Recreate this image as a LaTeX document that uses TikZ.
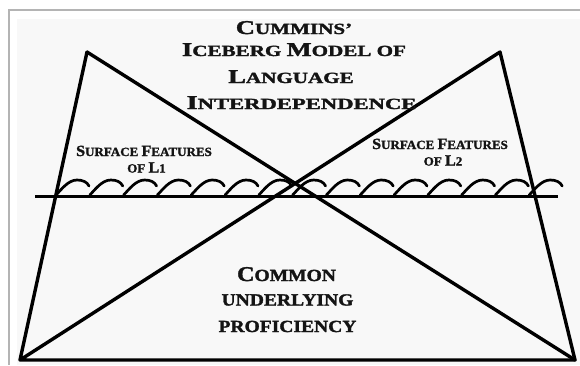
\documentclass[tikz,border=0pt]{standalone}
\usepackage{fontspec}
\setmainfont{Liberation Serif}[FakeBold=1.6]
\usepackage{graphicx}
\newcommand\capsc[4]{{\fontsize{#1}{#1}\selectfont #3}{\fontsize{#2}{#2}\selectfont #4}}
\definecolor{framegray}{HTML}{B4B4B4}
\definecolor{innerbg}{HTML}{F8F8F8}
\begin{document}
\begin{tikzpicture}[x=1pt,y=-1pt,
  edge/.style={line width=3.4pt, line cap=round, line join=round, black},
  waterline/.style={line width=3pt, black},
  wavecurve/.style={line width=2.7pt, line cap=round, black},
  frameline/.style={line width=1.6pt, framegray},
  lbl/.style={anchor=base, inner sep=0pt, font=\bfseries, text=black!92}]
\useasboundingbox (0,0) rectangle (580,365);
\fill[white] (0,0) rectangle (580,365);
\fill[innerbg] (17,19) rectangle (580,365);
\draw[frameline] (580,10) -- (9,10) -- (9,365);

% vertices
\coordinate (TL) at (87,52);
\coordinate (TR) at (500,52);
\coordinate (BL) at (20,360);
\coordinate (BR) at (575,360);

% waves
\foreach \k in {0,...,14} {
  \pgfmathsetmacro\cx{77+33.8*\k}
  \draw[wavecurve] (\cx-21,195) .. controls (\cx-16,190) and (\cx-9,180) .. (\cx,180)
     .. controls (\cx+6,180) and (\cx+10,182) .. (\cx+12,186);
}
\coordinate (WL) at (35,196);
\coordinate (WR) at (558,196);
\draw[waterline] (WL) -- (WR);

% triangles
\draw[edge] (TL) -- (BL) -- (BR) -- (TR) -- (BL);
\draw[edge] (TL) -- (BR);

% title
\node[lbl] (t1) at (294,34) {\scalebox{1.36}[1]{\capsc{19.5}{15.5}{C}{UMMINS’}}};
\node[lbl] (t2) at (294,56) {\scalebox{1.36}[1]{\capsc{19.5}{15.5}{I}{CEBERG }\capsc{19.5}{15.5}{M}{ODEL OF}}};
\node[lbl] (t3) at (291,83) {\scalebox{1.36}[1]{\capsc{19.5}{15.5}{L}{ANGUAGE}}};
\node[lbl] (t4) at (301.5,109) {\scalebox{1.46}[1]{\capsc{19.5}{15.5}{I}{NTERDEPENDENCE}}};

% surface features L1
\node[lbl] (s1a) at (144,156) {\scalebox{1.04}[1]{\capsc{15.5}{12.5}{S}{URFACE }\capsc{15.5}{12.5}{F}{EATURES}}};
\node[lbl] (s1b) at (146.5,172.5) {\scalebox{1.04}[1]{\capsc{15.5}{12.5}{}{OF }\capsc{15.5}{12.5}{L}{1}}};

% surface features L2
\node[lbl] (s2a) at (440,149) {\scalebox{1.04}[1]{\capsc{15.5}{12.5}{S}{URFACE }\capsc{15.5}{12.5}{F}{EATURES}}};
\node[lbl] (s2b) at (443,165.5) {\scalebox{1.04}[1]{\capsc{15.5}{12.5}{}{OF }\capsc{15.5}{12.5}{L}{2}}};

% common underlying proficiency
\node[lbl] (c1) at (286.5,281) {\scalebox{1.15}[1]{\capsc{21}{17}{C}{OMMON}}};
\node[lbl] (c2) at (287.5,305.5) {\scalebox{1.15}[1]{\capsc{21}{17}{}{UNDERLYING}}};
\node[lbl] (c3) at (287.5,332) {\scalebox{1.15}[1]{\capsc{21}{17}{}{PROFICIENCY}}};
\end{tikzpicture}
\end{document}
